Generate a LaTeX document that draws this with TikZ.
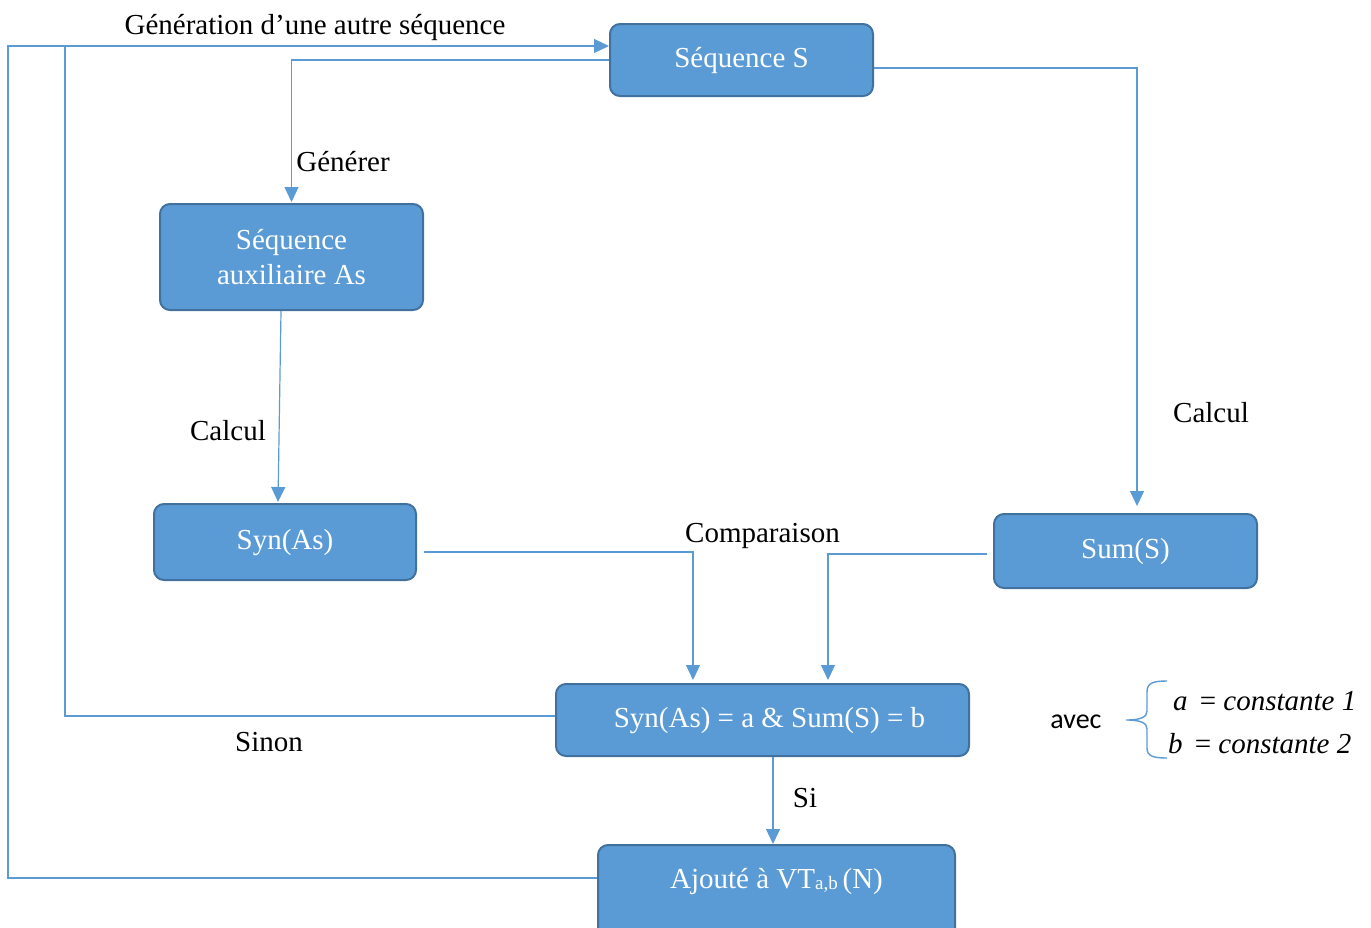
\documentclass[tikz,border=0pt]{standalone}
\usepackage{fontspec}
\setmainfont{Liberation Serif}
\newfontfamily\calibrifont{Carlito}
\usetikzlibrary{arrows.meta,calc}
\definecolor{boxfill}{HTML}{5B9BD5}
\definecolor{boxline}{HTML}{41719C}
\definecolor{wirecol}{HTML}{5B9BD5}

\begin{document}
\begin{tikzpicture}[x=1pt,y=-1pt,
  box/.style={draw=boxline, line width=2pt, fill=boxfill, rounded corners=10pt,
    text=white, font=\fontsize{29}{35}\selectfont, inner sep=0pt, align=center},
  oneline/.style={text height=20pt, text depth=6pt},
  conn/.style={draw=wirecol, line width=1.2pt, -{Triangle[length=15pt,width=14pt]}},
  plainwire/.style={draw=wirecol, line width=1.2pt},
  lbl/.style={font=\fontsize{29}{35}\selectfont, anchor=base, inner sep=0pt}]
\useasboundingbox (0,0) rectangle (1371,927);
\clip (0,0) rectangle (1371,927);

% process boxes
\node[box, oneline, minimum width=263pt, minimum height=72pt] (seqS) at (741.5,60) {Séquence S};
\node[box, minimum width=263pt, minimum height=106pt] (aux) at (291.5,257) {Séquence\\auxiliaire As};
\node[box, oneline, minimum width=262pt, minimum height=76pt] (syn) at (285,542) {Syn(As)};
\node[box, oneline, minimum width=263pt, minimum height=74pt] (sum) at (1125.5,551) {Sum(S)};
\node[box, oneline, minimum width=413pt, minimum height=72pt] (cond) at (762.5,720) {\hspace*{14pt}Syn(As) = a \& Sum(S) = b};
\node[box, text height=20pt, text depth=34pt, minimum width=357pt, minimum height=100pt] (add) at (776.5,895)
  {Ajouté à VT\raisebox{-1.5pt}{\fontsize{19}{20}\selectfont a,b}\,(N)};

% feedback bus corners
\coordinate (busA) at (65,46);
\coordinate (busB) at (8,46);

% connectors
\draw[conn] (seqS.west) -| ($(aux.north)+(0,-1)$);
\draw[conn] ($(seqS.east)+(0,8)$) -| ($(sum.north)+(11.5,-7)$);
\draw[conn] ($(aux.south)+(-10.5,0)$) -- ($(syn.north)+(-7,-1)$);
\draw[conn] ($(syn.east)+(7,10)$) -| ($(cond.north)+(-69.5,-3)$);
\draw[conn] ($(sum.west)+(-6,3)$) -| ($(cond.north)+(65.5,-3)$);
\draw[conn] ($(cond.south)+(10.5,0)$) -- ($(add.north)+(-3.5,0)$);
\draw[conn] ($(cond.west)+(0,-4)$) -| (busA) -- ($(seqS.west)+(0,-14)$);
\draw[plainwire] ($(add.west)+(0,-17)$) -| (busB) -- (busA);

% connector labels
\node[lbl] (lgen) at (315,34) {Génération d’une autre séquence};
\node[lbl] (lgenerer) at (343,171) {Générer};
\node[lbl] (lcalc1) at (228,440) {Calcul};
\node[lbl] (lcalc2) at (1211,422) {Calcul};
\node[lbl] (lcomp) at (762.5,542) {Comparaison};
\node[lbl] (lsinon) at (269,751) {Sinon};
\node[lbl] (lsi) at (805,807) {Si};

% constants legend
\node[lbl, font=\calibrifont\fontsize{28}{34}\selectfont] (avec) at (1076,728) {avec};
\draw[draw=wirecol, line width=1.4pt]
  (1167,681) .. controls (1153,681) and (1147,683) .. (1147,692) -- (1147,711)
  .. controls (1147,717) and (1141,720) .. (1126,720)
  .. controls (1141,720) and (1147,723) .. (1147,729) -- (1147,748)
  .. controls (1147,756) and (1153,758) .. (1167,758);
\node[lbl, anchor=base west] (ca) at (1173,710) {\textit{a}\, = \textit{constante 1}};
\node[lbl, anchor=base west] (cb) at (1168,753) {\textit{b}\, = \textit{constante 2}};
\end{tikzpicture}
\end{document}
